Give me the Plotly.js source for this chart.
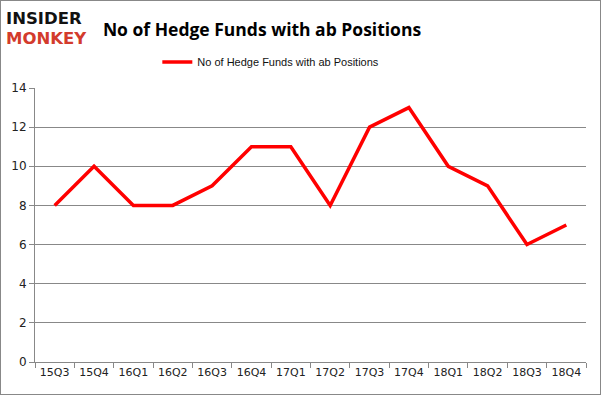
<!DOCTYPE html>
<html>
<head>
<meta charset="utf-8">
<script src="https://cdn.plot.ly/plotly-3.0.1.min.js"></script>
<style>
html,body{margin:0;padding:0;background:#fff;}
#wrap{position:relative;width:601px;height:395px;}
#frame{position:absolute;left:0;top:0;width:601px;height:395px;box-sizing:border-box;border:1px solid #888;pointer-events:none;}
</style>
</head>
<body>
<div id="wrap"><div id="chart" style="width:601px;height:395px;"></div><div id="frame"></div></div>
<script>
const quarters = ["15Q3","15Q4","16Q1","16Q2","16Q3","16Q4","17Q1","17Q2","17Q3","17Q4","18Q1","18Q2","18Q3","18Q4"];
const funds = [8,10,8,8,9,11,11,8,12,13,10,9,6,7];
const seriesName = "No of Hedge Funds with ab Positions";
const titleText = "No of Hedge Funds with ab Positions";
const yTicks = [0,2,4,6,8,10,12,14];

const trace = {
  x: quarters, y: funds, type: "scatter", mode: "lines", name: seriesName,
  line: {color: "#ff0000", width: 3.5}
};
const layout = {
  width: 601, height: 395,
  margin: {l: 35, r: 15, t: 88, b: 33},
  paper_bgcolor: "#fff", plot_bgcolor: "#fff",
  font: {family: "DejaVu Sans, Verdana, sans-serif", size: 11, color: "#222"},
  title: {text: titleText, x: 0.436, xanchor: "center", y: 0.925, yanchor: "middle",
          font: {family: "Open Sans, Noto Sans, sans-serif", size: 17.5, color: "#000", weight: "bold"}},
  showlegend: true,
  legend: {x: 0.428, xanchor: "center", y: 1.095, yanchor: "middle", orientation: "h",
           font: {family: "Liberation Sans, Arial, sans-serif", size: 11, color: "#111"}, bgcolor: "rgba(0,0,0,0)"},
  xaxis: {type: "category", showgrid: false, showline: true, linecolor: "#888", linewidth: 1,
          ticks: "outside", tickson: "boundaries", ticklen: 5, tickcolor: "#888",
          tickfont: {size: 11, color: "#222"}, range: [-0.5, 13.5]},
  yaxis: {range: [0, 14], tickvals: yTicks, showgrid: true, gridcolor: "#888", gridwidth: 1,
          showline: true, linecolor: "#888", ticks: "outside", ticklen: 5, tickcolor: "#888",
          tickfont: {size: 12, color: "#222"}, zeroline: false},
  annotations: [
    {text: "<b>INSIDER</b>", xref: "paper", yref: "paper", x: -0.056, y: 1.252, xanchor: "left", yanchor: "middle",
     showarrow: false, font: {family: "DejaVu Sans, sans-serif", size: 16.5, color: "#111"}},
    {text: "<b>MONKEY</b>", xref: "paper", yref: "paper", x: -0.056, y: 1.179, xanchor: "left", yanchor: "middle",
     showarrow: false, font: {family: "DejaVu Sans, sans-serif", size: 16.5, color: "#d33b2c"}}
  ]
};
Plotly.newPlot("chart", [trace], layout, {displayModeBar: false, staticPlot: true});
</script>
</body>
</html>
